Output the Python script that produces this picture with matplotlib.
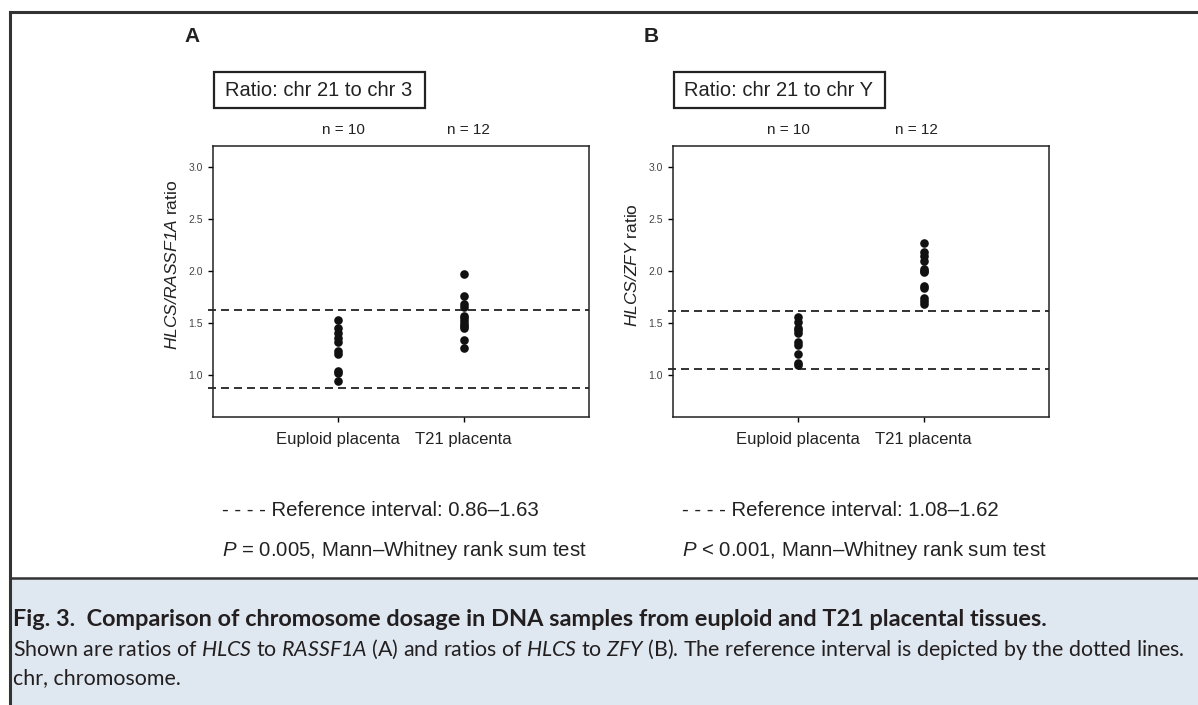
import numpy as np
import matplotlib
matplotlib.use("Agg")
import matplotlib.pyplot as plt
from matplotlib.patches import Rectangle
from matplotlib.lines import Line2D

plt.rcParams["font.family"] = ["Liberation Sans", "DejaVu Sans"]
plt.rcParams["mathtext.fontset"] = "custom"
plt.rcParams["mathtext.rm"] = "Lato"
plt.rcParams["mathtext.it"] = "Lato:italic"
plt.rcParams["mathtext.bf"] = "Lato:italic"
plt.rcParams["mathtext.sf"] = "Liberation Sans:italic"

# ---- data ----
groups = ["Euploid placenta", "T21 placenta"]
group_n = ["n = 10", "n = 12"]
yticks = [1.0, 1.5, 2.0, 2.5, 3.0]

a_euploid = [1.53, 1.45, 1.41, 1.36, 1.32, 1.23, 1.20, 1.04, 1.02, 0.95]
a_t21 = [1.97, 1.76, 1.68, 1.66, 1.57, 1.55, 1.52, 1.49, 1.47, 1.45, 1.34, 1.26]
a_ref_lines = [0.88, 1.63]

b_euploid = [1.56, 1.51, 1.45, 1.43, 1.41, 1.32, 1.29, 1.20, 1.12, 1.10]
b_t21 = [2.27, 2.18, 2.14, 2.10, 2.02, 2.00, 1.99, 1.86, 1.84, 1.74, 1.71, 1.68]
b_ref_lines = [1.06, 1.62]

W, H = 1198, 705
fig = plt.figure(figsize=(W / 100, H / 100), dpi=100)
fig.patch.set_facecolor("white")
DARK = "#222222"


def fx(px):
    return px / W


def fy(py):
    return 1 - py / H


# ── frame + caption background ──
fig.add_artist(Rectangle((fx(10), 0), 1 - fx(10), fy(578), transform=fig.transFigure,
                         facecolor="#dfe8f1", edgecolor="none", zorder=0))
fig.add_artist(Line2D([fx(10), 1], [fy(12), fy(12)], transform=fig.transFigure, color="#333333", lw=2.2))
fig.add_artist(Line2D([fx(10), fx(10)], [fy(12), 0], transform=fig.transFigure, color="#333333", lw=2.2))
fig.add_artist(Line2D([fx(10), 1], [fy(578), fy(578)], transform=fig.transFigure, color="#333333", lw=1.8))


def panel(left, letter, box_text, euploid, t21, ref_lines, gene, ref_text, p_text, n_pos):
    ax = fig.add_axes([fx(left), fy(417), fx(376), (417 - 146) / H])
    ax.plot(np.full(len(euploid), 1), euploid, "o", color="#111111", ms=6.2, mew=0)
    ax.plot(np.full(len(t21), 2), t21, "o", color="#111111", ms=6.2, mew=0)
    for v in ref_lines:
        ax.axhline(v, xmin=-0.014, xmax=1, color="#111111", lw=1.2,
                   linestyle=(0, (4.8, 3)), clip_on=False)
    ax.set_xlim(0, 3)
    ax.set_ylim(0.6, 3.2)
    ax.set_yticks(yticks)
    ax.set_yticklabels([f"{t:.1f}" for t in yticks], fontsize=7.5, color="#444444")
    ax.set_xticks([1, 2])
    ax.set_xticklabels(groups, fontsize=12, color=DARK)
    ax.tick_params(axis="y", length=3.6, width=1, pad=3.6, direction="out")
    ax.tick_params(axis="x", length=3.6, width=1, pad=7, direction="out")
    for s in ax.spines.values():
        s.set_linewidth(1.1)
        s.set_color("#222222")
    ax.set_ylabel(r"$\mathsf{" + gene + r"}$ ratio", fontsize=12.5, color=DARK)
    ax.yaxis.set_label_coords(-0.088, 0.56)

    fig.text(fx(left - 29), fy(37), letter, fontsize=15, fontweight="bold",
             ha="left", va="center", color=DARK)
    fig.add_artist(Rectangle((fx(left + 1), fy(108)), fx(211), 36 / H, transform=fig.transFigure,
                             fill=False, lw=1.6, edgecolor=DARK))
    fig.text(fx(left + 106), fy(90), box_text, fontsize=14.5, ha="center", va="center", color=DARK)
    for lab, px in zip(group_n, n_pos):
        fig.text(fx(px), fy(130), lab, fontsize=11, ha="center", va="center", color=DARK)
    fig.text(fx(left + 9), fy(510), ref_text, fontsize=14.7, ha="left", va="center", color=DARK)
    fig.text(fx(left + 9), fy(550), p_text, fontsize=14.7, ha="left", va="center", color=DARK)
    return ax


panel(213, "A", "Ratio: chr 21 to chr 3", a_euploid, a_t21, a_ref_lines, "HLCS/RASSF1A",
      "- - - - Reference interval: 0.86–1.63",
      r"$\mathsf{P}$ = 0.005, Mann–Whitney rank sum test", [343, 468])
panel(673, "B", "Ratio: chr 21 to chr Y", b_euploid, b_t21, b_ref_lines, "HLCS/ZFY",
      "- - - - Reference interval: 1.08–1.62",
      r"$\mathsf{P}$ < 0.001, Mann–Whitney rank sum test", [788, 916])

# ── caption ──
cap_font = ["Lato", "DejaVu Sans"]
cap1 = fig.text(fx(13), fy(619), "Fig. 3.  Comparison of chromosome dosage in DNA samples from euploid and T21 placental tissues.",
                fontsize=14, fontweight="bold", family=cap_font, ha="left", va="center", color="#231f20")
cap2 = fig.text(fx(13), fy(649),
                r"Shown are ratios of $\mathbf{HLCS}$ to $\mathbf{RASSF1A}$ (A) and ratios of $\mathbf{HLCS}$ to $\mathbf{ZFY}$ (B). "
                "The reference interval is depicted by the dotted lines.",
                fontsize=14, family=cap_font, ha="left", va="center", color="#231f20")
cap3 = fig.text(fx(13), fy(678), "chr, chromosome.", fontsize=14, family=cap_font,
                ha="left", va="center", color="#231f20")

# squeeze caption lines to the widths they have in the figure
r = fig.canvas.get_renderer()
for t, target in [(cap1, 1051 - 13), (cap2, 1189 - 13)]:
    w = t.get_window_extent(r).width
    t.set_fontsize(t.get_fontsize() * target / w)
cap3.set_fontsize(cap2.get_fontsize())

fig.savefig("out.png", dpi=100)
